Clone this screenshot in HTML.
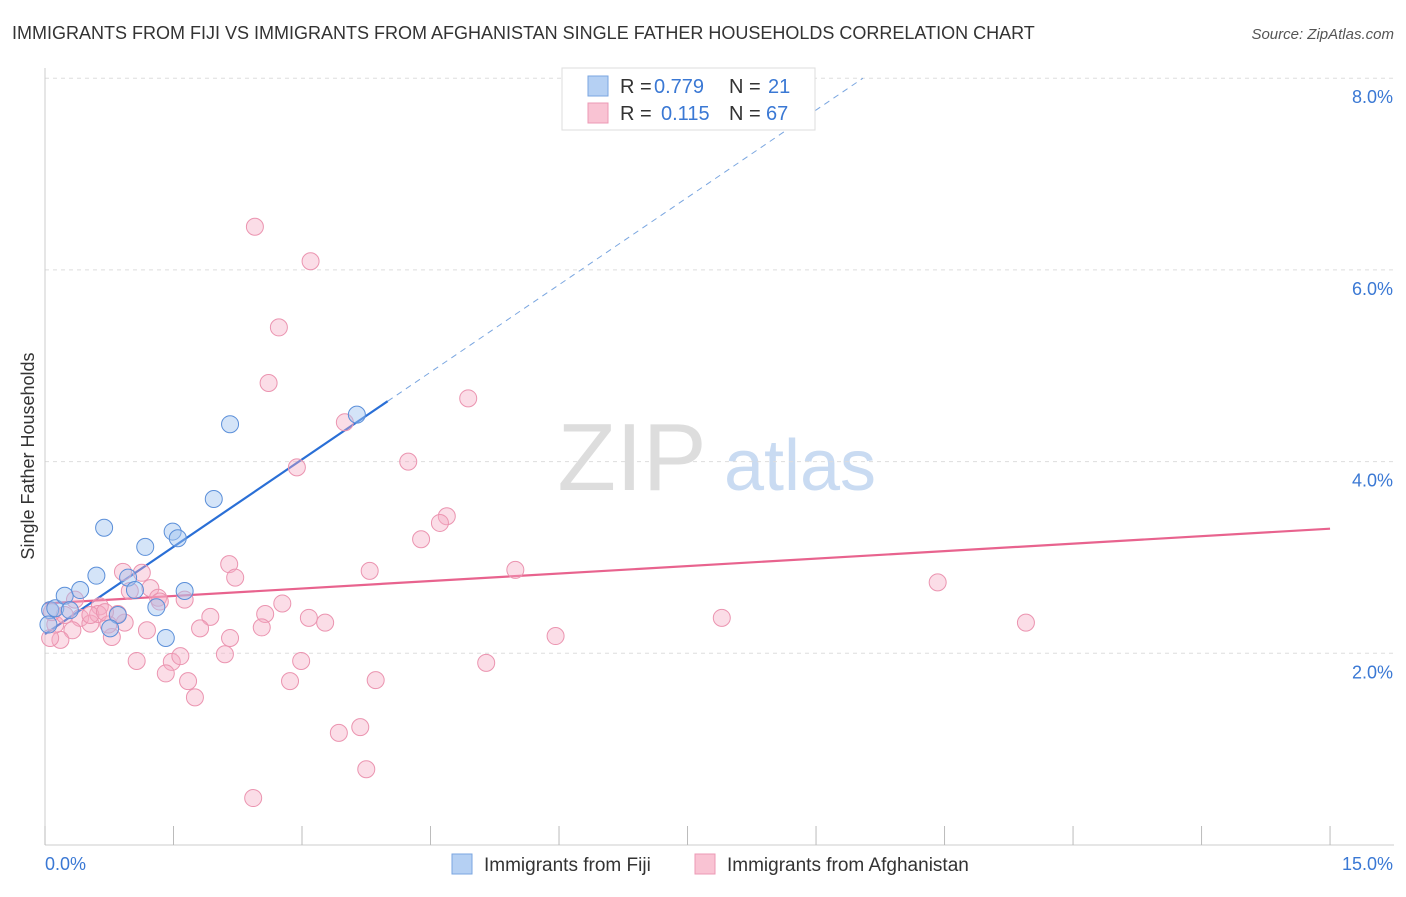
<!DOCTYPE html>
<html><head><meta charset="utf-8"><style>
body{margin:0;background:#fff;font-family:"Liberation Sans",sans-serif}
svg text{font-family:"Liberation Sans",sans-serif}
</style></head><body>
<svg id="chart" width="1406" height="892" viewBox="0 0 1406 892" xmlns="http://www.w3.org/2000/svg">
<text x="12" y="39" font-size="18" fill="#333">IMMIGRANTS FROM FIJI VS IMMIGRANTS FROM AFGHANISTAN SINGLE FATHER HOUSEHOLDS CORRELATION CHART</text>
<text x="1394" y="39" font-size="15" fill="#555" text-anchor="end" font-style="italic">Source: ZipAtlas.com</text>
<text transform="translate(34,456) rotate(-90)" font-size="18" fill="#333" text-anchor="middle">Single Father Households</text>
<g>
<text x="632" y="490" font-size="96" fill="#ddd" text-anchor="middle" font-family="Liberation Serif">ZIP</text>
<text x="800" y="490" font-size="72" fill="#c9dbf2" text-anchor="middle">atlas</text>
</g>
<g id="grid"></g><g id="axes"></g><g id="lines"></g><g id="pts"></g>
<g>
<rect x="562" y="68" width="253" height="62" fill="#fff" stroke="#ddd"/>
<rect x="588" y="76" width="20" height="20" fill="#b5d0f3" stroke="#7aa6e0"/>
<rect x="588" y="103" width="20" height="20" fill="#f9c3d3" stroke="#ec9ab4"/>
<text x="620" y="93" font-size="20" fill="#333">R = </text><text x="654" y="93" font-size="20" fill="#3a78d4">0.779</text>
<text x="729" y="93" font-size="20" fill="#333">N = </text><text x="768" y="93" font-size="20" fill="#3a78d4">21</text>
<text x="620" y="120" font-size="20" fill="#333">R = </text><text x="661" y="120" font-size="20" fill="#3a78d4">0.115</text>
<text x="729" y="120" font-size="20" fill="#333">N = </text><text x="766" y="120" font-size="20" fill="#3a78d4">67</text>
</g>
<g>
<rect x="452" y="854" width="20" height="20" fill="#b5d0f3" stroke="#7aa6e0"/>
<text x="484" y="871" font-size="19" fill="#333">Immigrants from Fiji</text>
<rect x="695" y="854" width="20" height="20" fill="#f9c3d3" stroke="#ec9ab4"/>
<text x="727" y="871" font-size="19" fill="#333">Immigrants from Afghanistan</text>
</g>
</svg>
<script>
const fijiX=[0.06,0.12,0.23,0.41,0.60,0.69,0.85,0.97,1.05,1.17,1.30,1.41,1.49,1.55,1.63,1.97,2.16,3.64,0.76,0.04,0.29];
const fijiY=[2.45,2.47,2.60,2.66,2.81,3.31,2.40,2.79,2.66,3.11,2.48,2.16,3.27,3.20,2.65,3.61,4.39,4.49,2.26,2.30,2.45];
const afgX=[2.45,3.10,2.73,2.61,4.94,3.50,2.94,4.24,4.69,4.61,4.39,2.15,2.22,3.79,5.49,0.91,1.13,1.23,0.99,1.32,1.63,2.77,2.57,3.08,3.27,1.93,2.53,2.16,1.19,0.93,0.64,0.41,0.53,0.32,0.18,0.06,0.78,1.07,1.48,1.58,1.41,1.67,1.75,2.10,2.86,2.99,3.86,3.43,3.68,3.75,2.43,5.15,5.96,7.90,10.42,11.45,0.85,0.62,0.74,0.12,0.23,0.35,0.53,1.81,1.34,0.70,0.08];
const afgY=[6.45,6.09,5.40,4.82,4.66,4.41,3.94,4.00,3.43,3.36,3.19,2.93,2.79,2.86,2.87,2.85,2.84,2.68,2.65,2.58,2.56,2.52,2.41,2.37,2.32,2.38,2.27,2.16,2.24,2.32,2.49,2.37,2.31,2.24,2.14,2.16,2.17,1.92,1.91,1.97,1.79,1.71,1.54,1.99,1.71,1.92,1.72,1.17,1.23,0.79,0.49,1.90,2.18,2.37,2.74,2.32,2.41,2.41,2.30,2.30,2.40,2.56,2.40,2.26,2.54,2.43,2.43];
const yTicks=[2,4,6,8];
const yTickLabels=["2.0%","4.0%","6.0%","8.0%"];
const xTicks=[0,1.5,3,4.5,6,7.5,9,10.5,12,13.5,15];
const fijiFit=[2.2,4.63];   // y at x=0 and x=4
const afgFit=[2.52,3.30];   // y at x=0 and x=15
const NS="http://www.w3.org/2000/svg";
const X=v=>45+v*85.67, Y=v=>845-v*95.85;
function mk(p,t,a){const e=document.createElementNS(NS,t);for(const k in a)e.setAttribute(k,a[k]);document.getElementById(p).appendChild(e);return e;}
yTicks.forEach((t,i)=>{
 const g=mk('grid','line',{x1:45,x2:1394,y1:Y(t),y2:Y(t),stroke:'#ddd','stroke-dasharray':'4,4'});
 
 
 const l=mk('axes','text',{x:1393,y:Y(t)+25,'font-size':18,fill:'#3a78d4','text-anchor':'end'});
 l.textContent=yTickLabels[i];
 
 
});
const ax=mk('axes','line',{x1:45,x2:45,y1:68,y2:845,stroke:'#ccc'});


const bx=mk('axes','line',{x1:45,x2:1394,y1:845,y2:845,stroke:'#ccc'});


xTicks.forEach(t=>{
 const k=mk('axes','line',{x1:X(t),x2:X(t),y1:826,y2:845,stroke:'#bbb'});
 
 
});
const x0=mk('axes','text',{x:45,y:870,'font-size':18,fill:'#3a78d4'});x0.textContent='0.0%';


const x1=mk('axes','text',{x:1393,y:870,'font-size':18,fill:'#3a78d4','text-anchor':'end'});x1.textContent='15.0%';


const slope=(fijiFit[1]-fijiFit[0])/4;
const fl=mk('lines','line',{x1:X(0),y1:Y(fijiFit[0]),x2:X(4),y2:Y(fijiFit[1]),stroke:'#2a6fd6','stroke-width':2.2});


const xe=(8.0-fijiFit[0])/slope;
const fd=mk('lines','line',{x1:X(4),y1:Y(fijiFit[1]),x2:X(xe),y2:Y(8.0),stroke:'#7aa6e0','stroke-width':1,'stroke-dasharray':'6,5'});


const al=mk('lines','line',{x1:X(0),y1:Y(afgFit[0]),x2:X(15),y2:Y(afgFit[1]),stroke:'#e8638e','stroke-width':2.2});


afgX.forEach((v,i)=>{
 const c=mk('pts','circle',{cx:X(v),cy:Y(afgY[i]),r:8.5,fill:'rgba(246,170,194,0.4)',stroke:'#eb94b0','stroke-width':1});
 
 
});
fijiX.forEach((v,i)=>{
 const c=mk('pts','circle',{cx:X(v),cy:Y(fijiY[i]),r:8.5,fill:'rgba(160,196,240,0.45)',stroke:'#5b8fd9','stroke-width':1});
 
 
});
</script>
</body></html>
